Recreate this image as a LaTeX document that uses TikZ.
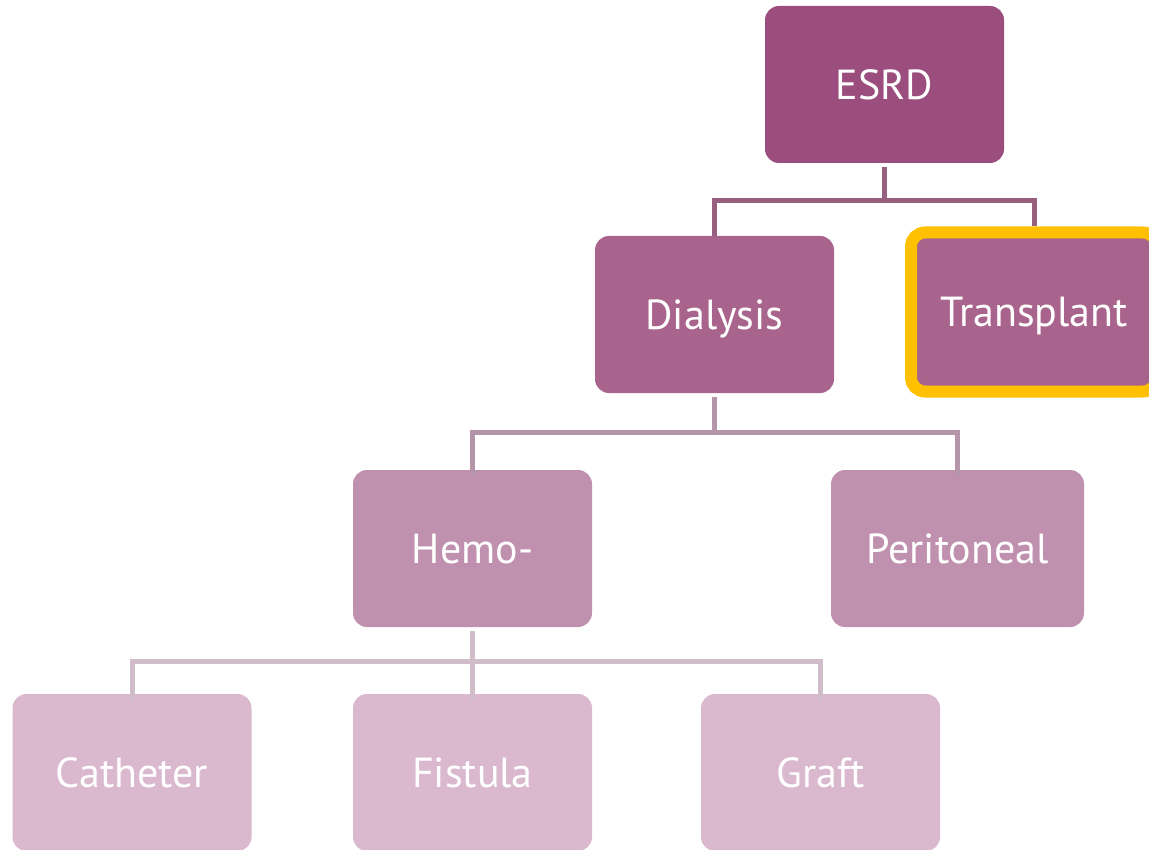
\documentclass[tikz,border=0pt]{standalone}
\usepackage{fontspec}
\setmainfont{PT Sans}
\usetikzlibrary{positioning}
\definecolor{plumA}{HTML}{9B4E7D}
\definecolor{plumB}{HTML}{A8648C}
\definecolor{plumC}{HTML}{C090AF}
\definecolor{plumD}{HTML}{DAB9CE}
\definecolor{lineA}{HTML}{98607F}
\definecolor{lineB}{HTML}{B595A8}
\definecolor{lineC}{HTML}{D1BDC9}
\definecolor{ring}{HTML}{FFC000}

\begin{document}
\begin{tikzpicture}[x=1pt,y=-1pt,on grid,
        box/.style={rectangle,rounded corners=14pt,minimum width=239pt,
                    minimum height=157pt,inner sep=0pt,text=white,text depth=0pt,
                    font=\fontsize{42}{50}\selectfont},
        link/.style={line width=5pt}]
                \useasboundingbox (0,0) rectangle (1149,850);

                \node[box,fill=plumA]   (esrd)  at (884.5,84.5)                    {ESRD};
                \node[box,fill=plumB]   (dial)  [below left=230pt and 170pt of esrd]   {Dialysis};
                \node[box,fill=plumB,draw=ring,line width=12pt,
                      minimum width=246pt,minimum height=159pt]
                                        (trans) [below right=227.5pt and 149.5pt of esrd] {Transplant};
                \node[box,fill=plumC]   (hemo)  [below left=234pt and 242pt of dial]   {Hemo-};
                \node[box,fill=plumC,minimum width=253pt]
                                        (perit) [below right=234pt and 243pt of dial]  {Peritoneal};
                \node[box,fill=plumD]   (fist)  [below=224pt of hemo]                  {Fistula};
                \node[box,fill=plumD]   (cath)  [left=340.5pt of fist]                 {Catheter};
                \node[box,fill=plumD]   (graft) [right=348pt of fist]                  {Graft};

                % tree links
                \draw[link,lineA] ([yshift=-4pt]esrd.south) -- ++(0,33) coordinate (ba);
                \draw[link,lineA] (ba) -| (dial.north);
                \draw[link,lineA] (ba) -| (trans.north);

                \draw[link,lineB] ([yshift=-4pt]dial.south) -- ++(0,35) coordinate (bb);
                \draw[link,lineB] (bb) -| ([yshift=-5pt]hemo.north);
                \draw[link,lineB] (bb) -| ([yshift=-5pt]perit.north);

                \draw[link,lineC] ([yshift=-4pt]hemo.south) -- ++(0,30) coordinate (bc);
                \draw[link,lineC] (bc) -| ([yshift=-6pt]cath.north);
                \draw[link,lineC] (bc) -| ([yshift=-6pt]fist.north);
                \draw[link,lineC] (bc) -| ([yshift=-6pt]graft.north);
\end{tikzpicture}
\end{document}
